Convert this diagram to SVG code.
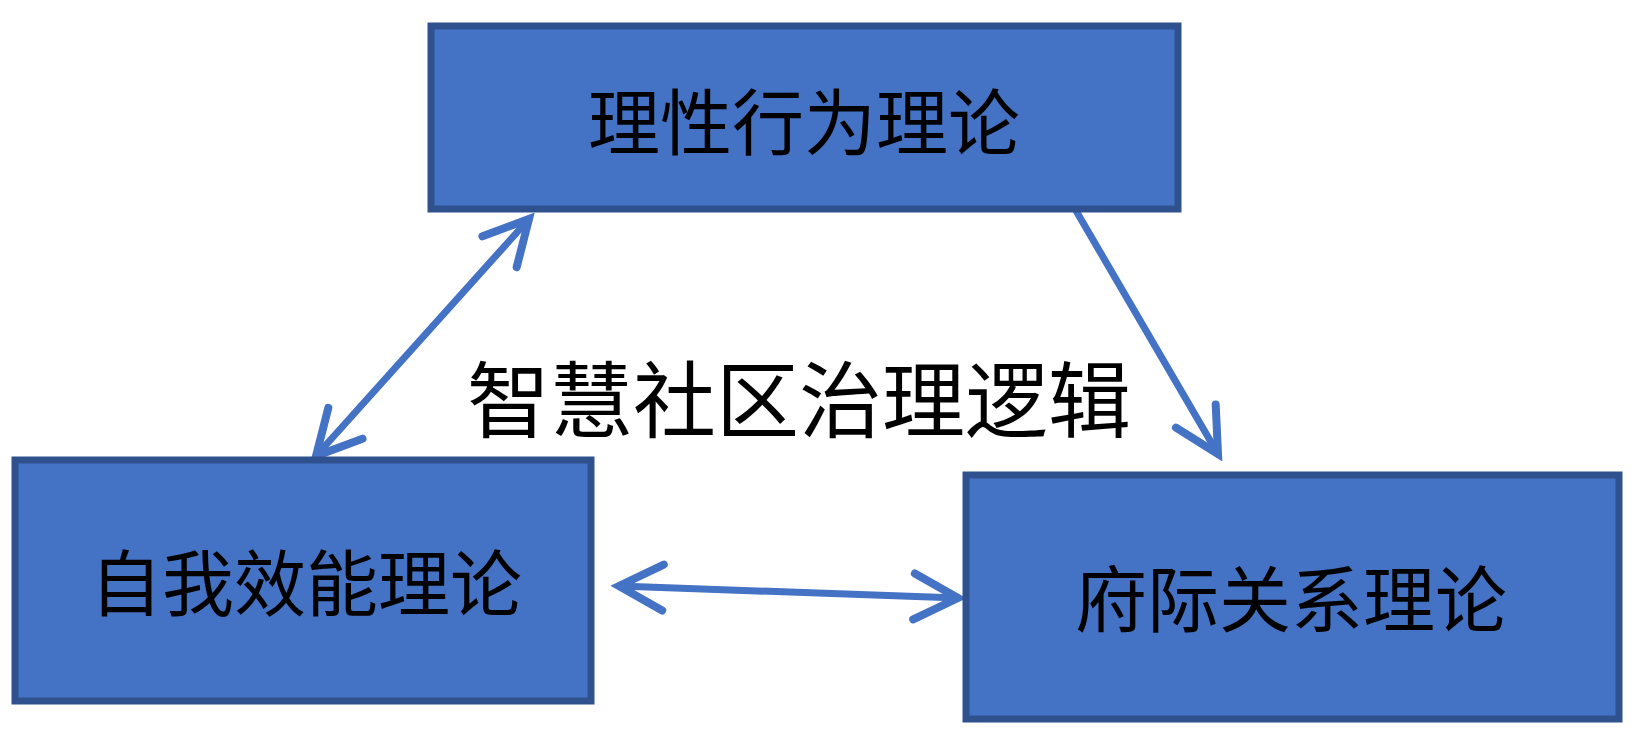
<svg xmlns="http://www.w3.org/2000/svg" width="1636" height="744" viewBox="0 0 1636 744">
<style>
.box{fill:#4472C4;stroke:#2F528F;stroke-width:7}
.lbl{font-family:"Liberation Serif","Noto Sans CJK SC",serif;font-size:72px;fill:#000;text-anchor:middle}
.title{font-family:"Liberation Serif","Noto Sans CJK SC",serif;font-size:83px;fill:#000;text-anchor:middle}
.conn{stroke:#4472C4;stroke-width:7;fill:none;stroke-linecap:round}
</style>
<defs>
<marker id="arr" viewBox="-52 -30 60 60" refX="0" refY="0" markerWidth="60" markerHeight="60" markerUnits="userSpaceOnUse" orient="auto-start-reverse">
<path d="M-44,-23 L0,0 L-44,23" fill="none" stroke="#4472C4" stroke-width="8" stroke-linecap="round" stroke-linejoin="miter"/>
</marker>
</defs>
<rect width="1636" height="744" fill="#fff"/>
<g id="connectors">
<line class="conn" x1="529" y1="219" x2="316" y2="456" marker-start="url(#arr)" marker-end="url(#arr)"/>
<line class="conn" x1="1075" y1="209" x2="1218" y2="454" marker-end="url(#arr)"/>
<line class="conn" x1="619" y1="586" x2="958" y2="598" marker-start="url(#arr)" marker-end="url(#arr)"/>
</g>
<g id="node-top">
<rect class="box" x="431" y="26" width="747" height="183"/>
<text class="lbl" x="804" y="149">理性行为理论</text>
</g>
<g id="node-left">
<rect class="box" x="15" y="460" width="576" height="241"/>
<text class="lbl" x="306" y="610">自我效能理论</text>
</g>
<g id="node-right">
<rect class="box" x="966" y="475" width="653" height="244"/>
<text class="lbl" x="1291" y="626">府际关系理论</text>
</g>
<g id="center-label">
<text class="title" x="799" y="431">智慧社区治理逻辑</text>
</g>
</svg>
